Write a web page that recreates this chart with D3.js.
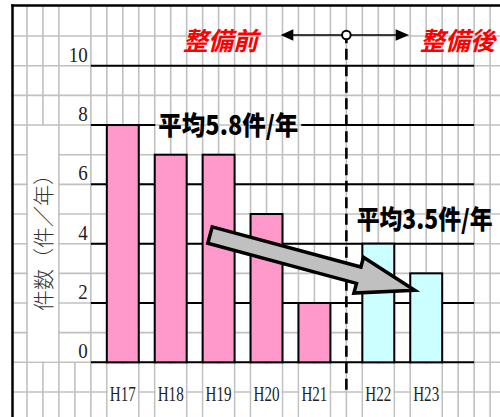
<!DOCTYPE html>
<html><head><meta charset="utf-8">
<script src="https://cdn.jsdelivr.net/npm/d3@7"></script>
<style>html,body{margin:0;padding:0;background:#fff;} svg{display:block;}</style>
</head><body>
<svg id="c" width="500" height="417"></svg>
<script>
// ---- data ----
const years = ["H17","H18","H19","H20","H21","H22","H23"];
const counts = [8,7,7,5,2,4,3];
const phase = ["before","before","before","before","before","after","after"];
const yTicks = [0,2,4,6,8,10];
const avgBeforeText = "平均5.8件/年";
const avgAfterText = "平均3.5件/年";
const labelBefore = "整備前";
const labelAfter = "整備後";
const yTitle = "件数（件／年）";
const title = "【整備前後の事故件数の推移】";

// ---- layout ----
const W = 500, H = 417;
const col = 15.97, row = 29.66, gx0 = 11, gy0 = 6.4;
const gx = j => gx0 + col * j, gy = i => gy0 + row * i;

const svg = d3.select("#c");
svg.append("rect").attr("width", W).attr("height", H).attr("fill", "#fff");

const y = d3.scaleLinear().domain([0, 10]).range([gy(12), gy(2)]);
const x = d3.scaleBand().domain(years).range([gx(6), gx(26)]).paddingInner(1/3).paddingOuter(0);
const shift = d => phase[years.indexOf(d)] === "after" ? col : 0;
const bx = d => x(d) + shift(d);
const plotL = gx(5), plotR = gx(29);

const gGrid = svg.append("g");
const gBlack = svg.append("g");
const gBars = svg.append("g");
const gLab = svg.append("g");
const gAnno = svg.append("g");
const gFrame = svg.append("g");

// ---- sheet grid ----
const GRAY = "#c0c0c0";
for (let j = 1; j <= 30; j++) {
  const y1 = (j === 4) ? y(0) : gy0;
  gGrid.append("line").attr("x1", gx(j)).attr("x2", gx(j)).attr("y1", y1).attr("y2", H)
    .attr("stroke", GRAY).attr("stroke-width", 1.6);
}
for (let i = 1; i <= 13; i++) {
  gGrid.append("line").attr("x1", gx0).attr("x2", W).attr("y1", gy(i)).attr("y2", gy(i))
    .attr("stroke", GRAY).attr("stroke-width", 1.6);
}
// merged cell for y-title
gGrid.append("rect").attr("x", gx(1) + 1).attr("y", gy(4) + 1)
  .attr("width", gx(3) - gx(1) - 2).attr("height", gy(12) - gy(4) - 2).attr("fill", "#fff");

// y title
gGrid.append("text").text(yTitle)
  .attr("transform", `translate(${(gx(1)+gx(3))/2 + 8}, 237.5) rotate(-90)`)
  .attr("text-anchor", "middle")
  .attr("font-family", "'Noto Sans CJK JP', sans-serif").attr("font-size", 21)
  .attr("font-weight", 300).attr("fill", "#333");

// y tick labels
gGrid.selectAll("text.yt").data(yTicks).join("text").attr("class", "yt")
  .attr("x", plotL - 3).attr("y", d => y(d) - 4)
  .attr("text-anchor", "end")
  .attr("font-family", "'Liberation Serif', serif").attr("font-size", 22).attr("fill", "#222")
  .attr("textLength", d => String(d).length * 9.5).attr("lengthAdjust", "spacingAndGlyphs")
  .text(d => d);

// ---- annotations (text first to measure) ----
const boldFont = "'Noto Sans CJK JP', sans-serif";
const avgB = gAnno.append("text").text(avgBeforeText)
  .attr("x", 158.3).attr("y", 135)
  .attr("font-family", boldFont).attr("font-weight", 900).attr("font-size", 26)
  .attr("textLength", 140).attr("lengthAdjust", "spacingAndGlyphs").attr("fill", "#000");
gAnno.append("text").text(avgAfterText)
  .attr("x", 356.7).attr("y", 229)
  .attr("font-family", boldFont).attr("font-weight", 900).attr("font-size", 26)
  .attr("textLength", 136).attr("lengthAdjust", "spacingAndGlyphs").attr("fill", "#000");

// ---- black value lines ----
const bb = avgB.node().getBBox();
yTicks.forEach(v => {
  const segs = (v === 8) ? [[plotL, bb.x - 3], [bb.x + bb.width + 3, plotR]] : [[plotL, plotR]];
  segs.forEach(s => gBlack.append("line")
    .attr("x1", s[0]).attr("x2", s[1]).attr("y1", y(v)).attr("y2", y(v))
    .attr("stroke", "#000").attr("stroke-width", 2));
});

// ---- bars ----
gBars.selectAll("rect").data(years).join("rect")
  .attr("x", d => bx(d)).attr("y", (d, i) => y(counts[i]))
  .attr("width", x.bandwidth()).attr("height", (d, i) => y(0) - y(counts[i]))
  .attr("fill", (d, i) => phase[i] === "before" ? "#ff99cc" : "#ccffff")
  .attr("stroke", "#000").attr("stroke-width", 2);

// ---- x labels ----
gLab.selectAll("rect").data(years).join("rect")
  .attr("x", d => bx(d) + 1).attr("y", y(0) + 1.5)
  .attr("width", x.bandwidth() - 2).attr("height", H - y(0))
  .attr("fill", "#fff");
gLab.selectAll("text").data(years).join("text")
  .attr("x", d => bx(d) + x.bandwidth() / 2).attr("y", y(0) + 38.4)
  .attr("text-anchor", "middle")
  .attr("font-family", "'Liberation Serif', serif").attr("font-size", 21).attr("fill", "#222")
  .attr("textLength", 26).attr("lengthAdjust", "spacingAndGlyphs")
  .text(d => d);

// ---- divider ----
const divX = gx(21), arrowY = 35;
gAnno.insert("line", ":first-child").attr("x1", divX).attr("x2", divX).attr("y1", arrowY).attr("y2", 391.7)
  .attr("stroke", "#000").attr("stroke-width", 2.6).attr("stroke-dasharray", "11,5.5").attr("stroke-dashoffset", 2.8);
gAnno.append("line").attr("x1", 290).attr("x2", 400).attr("y1", arrowY).attr("y2", arrowY)
  .attr("stroke", "#000").attr("stroke-width", 1.5);
gAnno.append("path").attr("d", `M280.7,${arrowY} L293.3,${arrowY-5.7} L293.3,${arrowY+5.7} Z`).attr("fill", "#000");
gAnno.append("path").attr("d", `M409,${arrowY} L395.7,${arrowY-5.7} L395.7,${arrowY+5.7} Z`).attr("fill", "#000");
gAnno.append("circle").attr("cx", divX).attr("cy", arrowY).attr("r", 4.3)
  .attr("fill", "#fff").attr("stroke", "#000").attr("stroke-width", 2);

const redFont = "'Noto Sans CJK JP', sans-serif";
gAnno.append("text").text(labelBefore).attr("x", 183).attr("y", 50)
  .attr("font-family", redFont).attr("font-weight", 700).attr("font-style", "italic")
  .attr("font-size", 25).attr("fill", "#ff0000");
gAnno.append("text").text(labelAfter).attr("x", 420).attr("y", 50)
  .attr("font-family", redFont).attr("font-weight", 700).attr("font-style", "italic")
  .attr("font-size", 25).attr("fill", "#ff0000");

// ---- big gray trend arrow ----
const tail = [210, 235.1], tip = [414.7, 290.3];
const ang = Math.atan2(tip[1] - tail[1], tip[0] - tail[0]) * 180 / Math.PI;
const L = Math.hypot(tip[0] - tail[0], tip[1] - tail[1]);
const sh = 8.5, hh = 18.5, hb = L - 58;
gAnno.append("path")
  .attr("d", `M0,${-sh} L${hb},${-sh} L${hb},${-hh} L${L},0 L${hb},${hh} L${hb},${sh} L0,${sh} Z`)
  .attr("transform", `translate(${tail[0]},${tail[1]}) rotate(${ang})`)
  .attr("fill", "#c0c0c0").attr("stroke", "#000").attr("stroke-width", 3.5).attr("stroke-linejoin", "miter");

// ---- frame & title (title is cropped by the top edge, as in the source) ----
gFrame.append("line").attr("x1", 12.5).attr("x2", 12.5).attr("y1", 4.3).attr("y2", H)
  .attr("stroke", "#000").attr("stroke-width", 2.5);
gFrame.append("line").attr("x1", 11.3).attr("x2", W).attr("y1", 5.5).attr("y2", 5.5)
  .attr("stroke", "#000").attr("stroke-width", 2.5);
gFrame.append("text").text(title).attr("x", 0).attr("y", -2.5)
  .attr("font-family", "'Noto Sans CJK JP', sans-serif").attr("font-size", 18).attr("fill", "#000");
</script>
</body></html>
